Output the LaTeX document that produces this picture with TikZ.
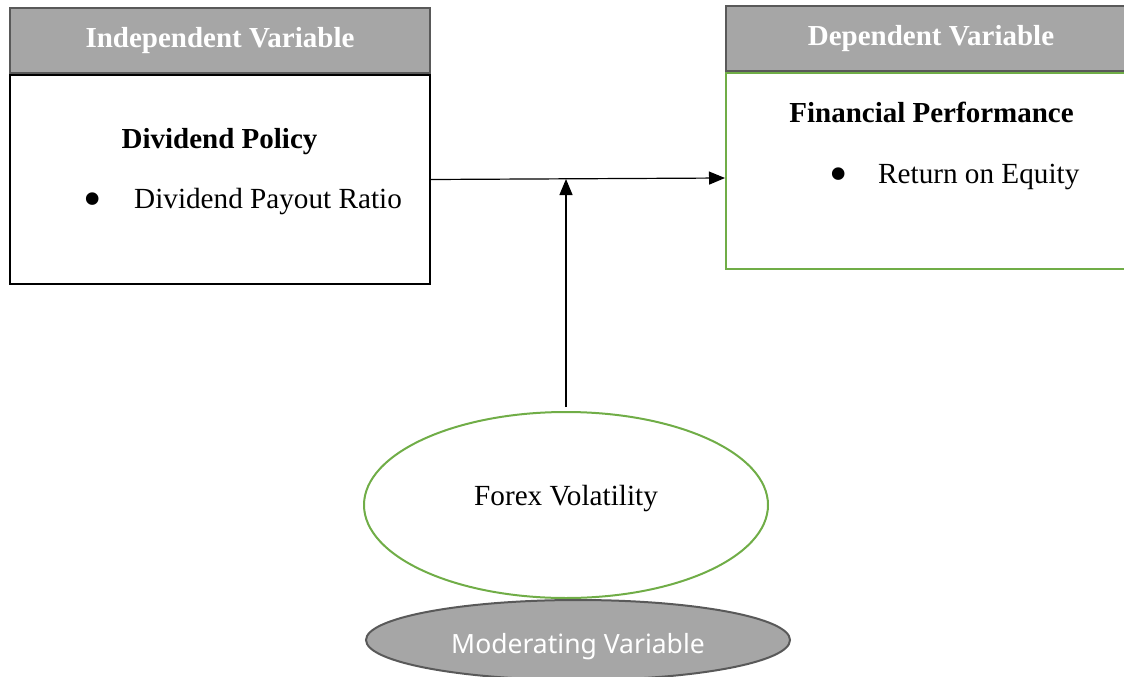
\documentclass[tikz,border=0pt]{standalone}
\usepackage{fontspec}
\setmainfont{Liberation Serif}
\newfontfamily\modfont{Noto Sans}
\usepackage{xcolor}
\usetikzlibrary{positioning,shapes.geometric,arrows.meta}
\definecolor{hdrgray}{HTML}{A6A6A6}
\definecolor{hdrline}{HTML}{595959}
\definecolor{modgreen}{HTML}{70AD47}
\newcommand{\bigdot}{\raisebox{-8pt}{\scalebox{1.8}{\textbullet}}}

\begin{document}
\begin{tikzpicture}[
  x=1pt, y=-1pt,
  hdr/.style={draw=hdrline, fill=hdrgray, line width=2pt, minimum height=65pt, inner sep=0pt, text=white, font=\fontsize{29}{34}\selectfont\bfseries},
  body/.style={draw, line width=2pt, inner sep=0pt},
  title/.style={anchor=base, inner sep=0pt, font=\fontsize{29}{34}\selectfont\bfseries},
  item/.style={anchor=base west, inner sep=0pt, font=\fontsize{29.2}{34}\selectfont},
  fxell/.style={ellipse, draw=modgreen, line width=2pt, minimum width=404pt, minimum height=186pt, inner sep=0pt},
  modell/.style={ellipse, draw=hdrline, fill=hdrgray, line width=2pt, minimum width=424pt, minimum height=80pt, inner sep=0pt},
  flow/.style={-{Triangle[length=16pt,width=13pt]}, line width=1.2pt}
]
\clip (0,0) rectangle (1124,677);

% independent variable
\node[body, minimum width=420pt, minimum height=209pt] (ivbody) at (220,179.5) {};
\node[hdr, minimum width=420pt, above=0pt of ivbody] (ivhead) {Independent Variable};
\node[title] (ivtitle) at (219.5,148) {Dividend Policy};
\node[item] (ivitem) at (83,208) {\makebox[51pt][l]{\bigdot}Dividend Payout Ratio};

% dependent variable
\node[body, draw=modgreen, minimum width=410pt, minimum height=196pt] (dvbody) at (931,171) {};
\node[hdr, minimum width=410pt, above=0pt of dvbody] (dvhead) {Dependent Variable};
\node[title] (dvtitle) at (931.5,122) {Financial Performance};
\node[item] (dvitem) at (829,183) {\makebox[49pt][l]{\bigdot}Return on Equity};

% moderating variable
\node[fxell] (fxv) at (566,505) {};
\node[item, anchor=base] (fxtext) at (566,505) {Forex Volatility};
\node[modell] (modv) at (578,640) {};
\node[anchor=base, inner sep=0pt, text=white, font=\modfont\fontsize{26.5}{30}\selectfont] (modtext) at (578,653) {Moderating Variable};

\coordinate (join) at (566,179);
\draw[flow] (ivbody.east) -- ([yshift=-7pt]dvbody.west);
\draw[flow] ([yshift=4pt]fxv.north) -- (join);
\end{tikzpicture}
\end{document}
